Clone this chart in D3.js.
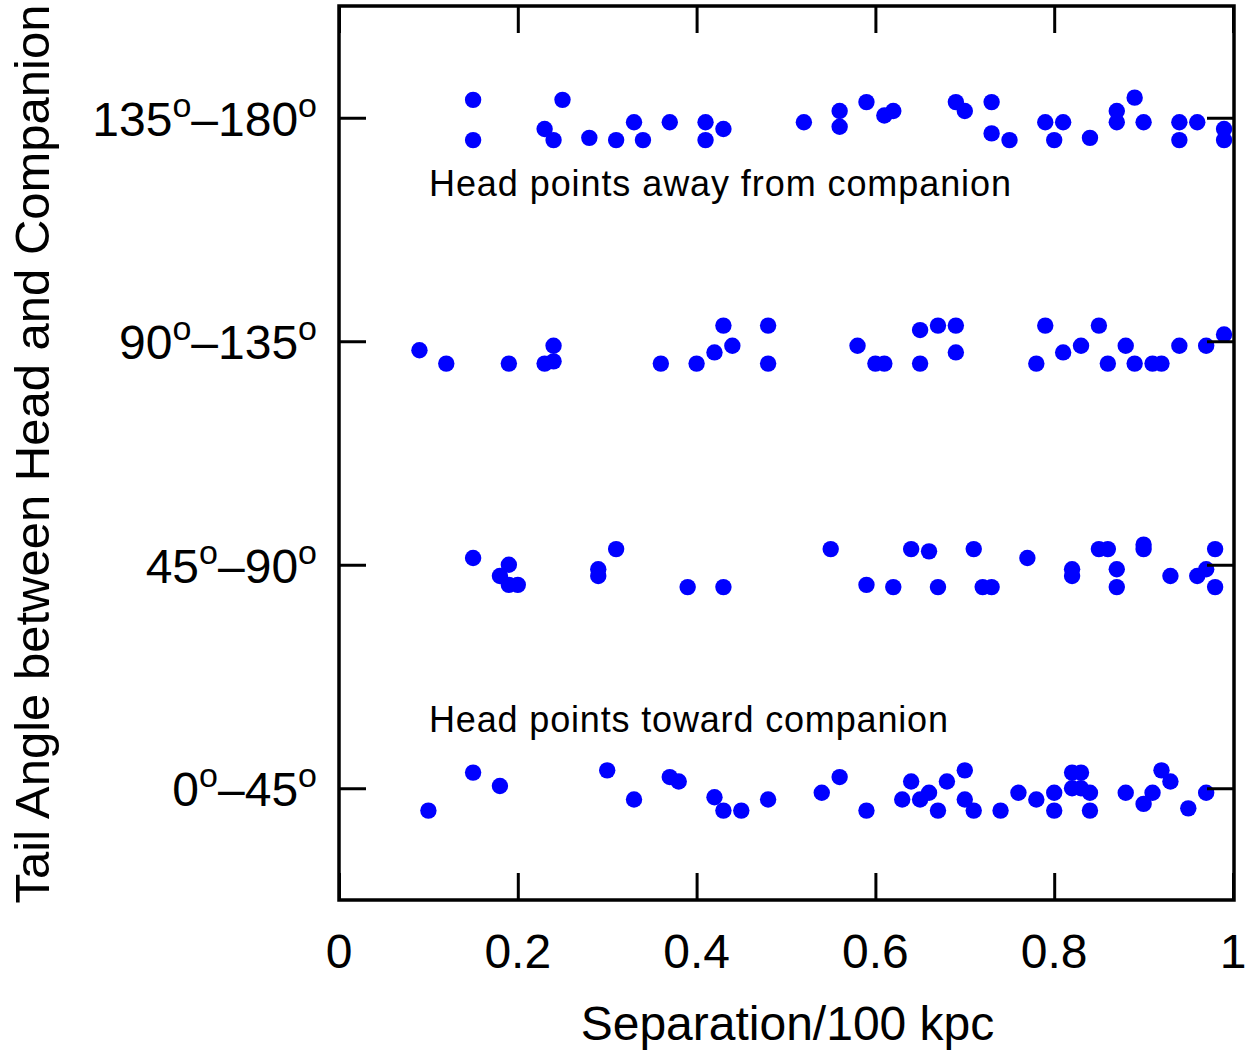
<!DOCTYPE html>
<html><head><meta charset="utf-8">
<script src="https://cdn.jsdelivr.net/npm/d3@7"></script>
<style>body{margin:0;background:#fff}svg{display:block}text{font-family:"Liberation Sans",Arial,sans-serif;fill:#000}</style>
</head><body><svg id="c" width="1249" height="1057"></svg>
<script>
// Category labels (bottom to top)
const categories = ["0–45", "45–90", "90–135", "135–180"];
const catParts = [["0","45"],["45","90"],["90","135"],["135","180"]];
const xTicks = [0, 0.2, 0.4, 0.6, 0.8, 1];
const xTickLabels = ["0","0.2","0.4","0.6","0.8","1"];

// Separation / 100 kpc and vertical jitter (in category units) per angle band
const sep0 = [0.10,0.15,0.18,0.30,0.33,0.37,0.38,0.42,0.43,0.45,0.48,0.54,0.56,0.59,0.63,0.64,0.65,0.66,0.67,0.68,0.70,0.70,0.71,0.74,0.76,0.78,0.80,0.80,0.82,0.83,0.82,0.83,0.84,0.84,0.88,0.90,0.91,0.92,0.93,0.95,0.97];
const jit0 = [-0.10,0.07,0.01,0.08,-0.05,0.05,0.03,-0.04,-0.10,-0.10,-0.05,-0.02,0.05,-0.10,-0.05,0.03,-0.05,-0.02,-0.10,0.03,0.08,-0.05,-0.10,-0.10,-0.02,-0.05,-0.02,-0.10,0.07,0.07,0.00,0.00,-0.02,-0.10,-0.02,-0.07,-0.02,0.08,0.03,-0.09,-0.02];

const sep1 = [0.15,0.19,0.18,0.19,0.20,0.29,0.29,0.31,0.39,0.43,0.55,0.59,0.62,0.64,0.66,0.67,0.71,0.72,0.73,0.77,0.82,0.82,0.85,0.86,0.87,0.87,0.90,0.90,0.93,0.96,0.97,0.98,0.98];
const jit1 = [0.03,0.00,-0.05,-0.09,-0.09,-0.02,-0.05,0.07,-0.10,-0.10,0.07,-0.09,-0.10,0.07,0.06,-0.10,0.07,-0.10,-0.10,0.03,-0.02,-0.05,0.07,0.07,-0.02,-0.10,0.09,0.07,-0.05,-0.05,-0.02,0.07,-0.10];

const sep2 = [0.09,0.12,0.19,0.23,0.24,0.24,0.36,0.40,0.42,0.44,0.43,0.48,0.48,0.58,0.60,0.61,0.65,0.65,0.67,0.69,0.69,0.78,0.79,0.81,0.83,0.85,0.86,0.88,0.89,0.91,0.92,0.94,0.97,0.99];
const jit2 = [-0.04,-0.10,-0.10,-0.10,-0.09,-0.02,-0.10,-0.10,-0.05,-0.02,0.07,0.07,-0.10,-0.02,-0.10,-0.10,0.05,-0.10,0.07,0.07,-0.05,-0.10,0.07,-0.05,-0.02,0.07,-0.10,-0.02,-0.10,-0.10,-0.10,-0.02,-0.02,0.03];

const sep3 = [0.15,0.15,0.25,0.23,0.24,0.28,0.31,0.33,0.34,0.37,0.41,0.41,0.43,0.52,0.56,0.56,0.59,0.61,0.62,0.69,0.70,0.73,0.73,0.75,0.79,0.81,0.80,0.84,0.87,0.87,0.89,0.90,0.94,0.94,0.96,0.99,0.99];
const jit3 = [0.08,-0.10,0.08,-0.05,-0.10,-0.09,-0.10,-0.02,-0.10,-0.02,-0.02,-0.10,-0.05,-0.02,0.03,-0.04,0.07,0.01,0.03,0.07,0.03,0.07,-0.07,-0.10,-0.02,-0.02,-0.10,-0.09,0.03,-0.02,0.09,-0.02,-0.02,-0.10,-0.02,-0.05,-0.10];

const annotations = ["Head points away from companion", "Head points toward companion"];

const svg = d3.select("#c");
const L = 339, R = 1234, T = 6, B = 900;
const x = d3.scaleLinear().domain([0,1]).range([L, 1233]);
const y = d3.scaleLinear().domain([-0.5,3.5]).range([B, T]);

const bands = [[sep0,jit0],[sep1,jit1],[sep2,jit2],[sep3,jit3]];
const pts = [];
bands.forEach(([s,j],ci)=> s.forEach((v,i)=> pts.push({x:v, y:ci + j[i]})));

// points
svg.append("g").selectAll("circle").data(pts).join("circle")
  .attr("cx", d=>x(d.x)).attr("cy", d=>y(d.y)).attr("r", 8.2).attr("fill", "#0000ff");

// axes (ticks inward, mirrored)
const tl = 27;
const xb = svg.append("g").attr("transform",`translate(0,${B})`)
  .call(d3.axisBottom(x).tickValues(xTicks).tickSize(-tl).tickFormat(""));
const xt = svg.append("g").attr("transform",`translate(0,${T})`)
  .call(d3.axisTop(x).tickValues(xTicks).tickSize(-tl).tickFormat(""));
const yl = svg.append("g").attr("transform",`translate(${L},0)`)
  .call(d3.axisLeft(y).tickValues([0,1,2,3]).tickSize(-tl).tickFormat(""));
const yr = svg.append("g").attr("transform",`translate(${R},0)`)
  .call(d3.axisRight(y).tickValues([0,1,2,3]).tickSize(-tl).tickFormat(""));
[xb,xt,yl,yr].forEach(g=>{ g.select(".domain").remove(); g.selectAll("line").attr("stroke","#000").attr("stroke-width",3); });

// frame
svg.append("rect").attr("x",L).attr("y",T).attr("width",R-L).attr("height",B-T)
  .attr("fill","none").attr("stroke","#000").attr("stroke-width",3.5);

// x tick labels
svg.append("g").selectAll("text").data(xTicks).join("text")
  .attr("x", d=>x(d)).attr("y", 968).attr("text-anchor","middle")
  .style("font-size","48px").text((d,i)=>xTickLabels[i]);

// y tick labels with superscript o
const yLab = svg.append("g").selectAll("text").data(catParts).join("text")
  .attr("x", 317).attr("y", (d,i)=>y(i)+18).attr("text-anchor","end").style("font-size","48px");
yLab.each(function(d){
  const t = d3.select(this);
  t.append("tspan").text(d[0]);
  t.append("tspan").attr("dy",-19).style("font-size","34px").text("o");
  t.append("tspan").attr("dy",19).text("–"+d[1]);
  t.append("tspan").attr("dy",-19).style("font-size","34px").text("o");
});

// axis titles
svg.append("text").attr("x", (582+993)/2).attr("y", 1040).attr("text-anchor","middle")
  .style("font-size","48px").text("Separation/100 kpc");
svg.append("text").attr("transform","translate(49,454) rotate(-90)").attr("text-anchor","middle")
  .style("font-size","49px").text("Tail Angle between Head and Companion");

// annotations
svg.append("text").attr("x",429).attr("y",196).style("font-size","36px")
  .attr("textLength",582).attr("lengthAdjust","spacing").text(annotations[0]);
svg.append("text").attr("x",429).attr("y",732).style("font-size","36px")
  .attr("textLength",519).attr("lengthAdjust","spacing").text(annotations[1]);
</script></body></html>
